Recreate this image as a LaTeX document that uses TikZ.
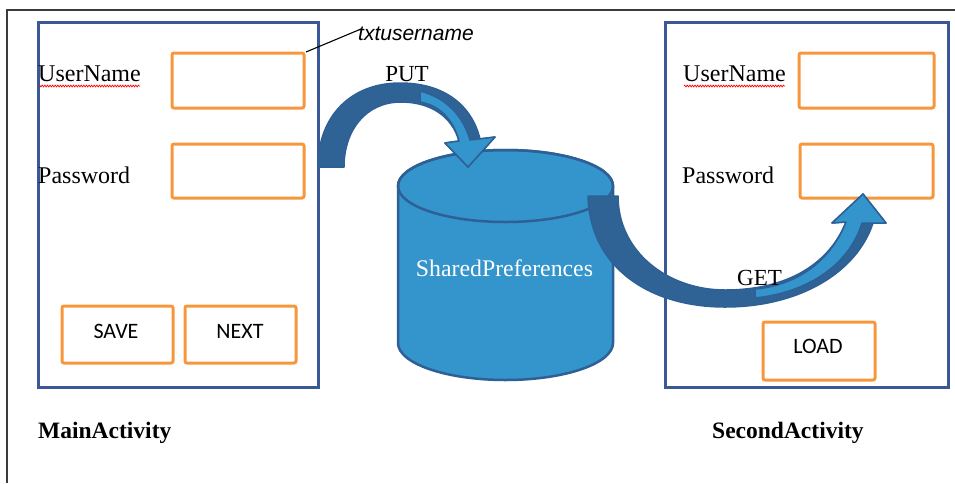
\documentclass[tikz,border=0pt]{standalone}
\usepackage{fontspec}
\setmainfont{Liberation Serif}
\newfontfamily\btnfont{Carlito}
\newfontfamily\annfont{Liberation Sans}
\usetikzlibrary{decorations.pathmorphing}

\definecolor{frameblue}{RGB}{58,88,150}
\definecolor{fieldorange}{RGB}{248,150,60}
\definecolor{dbfill}{RGB}{52,148,204}
\definecolor{dbline}{RGB}{46,96,150}
\definecolor{arrowdark}{RGB}{47,99,150}
\definecolor{pagegray}{RGB}{60,60,60}

\begin{document}
\begin{tikzpicture}[x=1pt,y=-1pt,
  activity/.style={draw=frameblue, line width=3pt, anchor=north west, inner sep=0pt, outer sep=0pt},
  field/.style={draw=fieldorange, line width=3pt, rounded corners=2pt, anchor=north west, inner sep=0pt, outer sep=0pt},
  lbl/.style={font=\fontsize{24}{28}\selectfont, anchor=base west, inner sep=0pt},
  title/.style={font=\fontsize{23.5}{28}\selectfont\bfseries, anchor=base west, inner sep=0pt},
  btn/.style={font=\btnfont\fontsize{22}{26}\selectfont, anchor=base, inner sep=0pt},
  verb/.style={font=\fontsize{23}{28}\selectfont, anchor=base, inner sep=0pt},
  squiggle/.style={draw=red, line width=0.7pt, decorate, decoration={zigzag, amplitude=0.9pt, segment length=2.6pt}},
  blockarrow/.style={fill=arrowdark, draw=dbline, line width=1.5pt, line join=round},
  blocklight/.style={fill=dbfill, draw=dbline, line width=1.5pt, line join=round}
]
\useasboundingbox (0,0) rectangle (955,483);

% page frame
\draw[pagegray, line width=1.5pt] (7,483) -- (7,10) -- (955,10);

% MainActivity screen
\node[activity, minimum width=280pt, minimum height=365pt] (main) at (38,22) {};
\node[lbl] (mainuserlbl) at (38,81) {UserName};
\draw[squiggle] (39,86) -- (140,86);
\node[lbl] (mainpasslbl) at (38,183) {Password};
\node[field, minimum width=132pt, minimum height=55pt] (mainuser) at (172,53) {};
\node[field, minimum width=132pt, minimum height=54pt] (mainpass) at (172,144) {};
\node[field, minimum width=111pt, minimum height=57pt] (save) at (62,306) {};
\node[field, minimum width=111pt, minimum height=57pt] (next) at (185,306) {};
\node[btn] (savetxt) at (116,338) {SAVE};
\node[btn] (nexttxt) at (240,338) {NEXT};
\node[title] (maintitle) at (38,438) {MainActivity};

% field annotation
\node[font=\annfont\itshape\fontsize{21}{25}\selectfont, anchor=base west, inner sep=0pt] (annot) at (358,40) {txtusername};
\coordinate (annotend) at (361,29);
\draw[black, line width=1.1pt] (mainuser.north east) ++(2,-1) -- (annotend);

% SecondActivity screen
\node[activity, minimum width=283pt, minimum height=365pt] (second) at (665,22) {};
\node[lbl] (secuserlbl) at (683,81) {UserName};
\draw[squiggle] (684,86) -- (785,86);
\node[lbl] (secpasslbl) at (682,183) {Password};
\node[field, minimum width=135pt, minimum height=55pt] (secuser) at (799,53) {};
\node[field, minimum width=133pt, minimum height=54pt] (secpass) at (800,144) {};
\node[field, minimum width=112pt, minimum height=58pt] (load) at (763,322) {};
\node[btn] (loadtxt) at (818,353) {LOAD};
\node[title] (sectitle) at (712,438) {SecondActivity};

% SharedPreferences store
\coordinate (dbtop) at (505.5,186);
\coordinate (dbbot) at (505.5,343);
\filldraw[fill=dbfill, draw=dbline, line width=2.5pt]
  (398,186) -- (398,343) arc[start angle=180, end angle=0, x radius=107.5, y radius=37]
  -- (613,186) arc[start angle=0, end angle=-180, x radius=107.5, y radius=36] -- cycle;
\draw[dbline, line width=2.5pt] (dbtop) ellipse[x radius=107.5, y radius=36];
\node[font=\fontsize{23.8}{28}\selectfont, text=white, anchor=base, inner sep=0pt] (db) at (504.5,276) {SharedPreferences};

% PUT arrow
\path[blockarrow]
  (318,167) .. controls (318,115) and (352,83) .. (400,83)
  .. controls (445,83) and (472,106) .. (480,139)
  -- (495,137) -- (468,167) -- (445,143) -- (459,141)
  .. controls (452,116) and (430,102) .. (401,102)
  .. controls (366,102) and (344,130) .. (344,167) -- cycle;
\path[blocklight]
  (420,91) .. controls (447,98) and (463,116) .. (470,140)
  -- (495,137) -- (468,167) -- (445,143) -- (459,141)
  .. controls (453,118) and (438,105) .. (420,102) -- cycle;
\node[verb] (put) at (407,81) {PUT};

% GET arrow
\path[blockarrow]
  (588,196) .. controls (590,268) and (650,307) .. (725,307)
  .. controls (800,307) and (857,272) .. (873,223)
  -- (886,223) -- (863,194) -- (832,223) -- (846,222)
  .. controls (830,262) and (790,290) .. (725,290)
  .. controls (668,290) and (618,252) .. (618,196) -- cycle;
\path[blocklight]
  (755,298) .. controls (812,292) and (850,262) .. (862,223)
  -- (886,223) -- (863,194) -- (832,223) -- (846,222)
  .. controls (832,258) and (800,285) .. (755,289) -- cycle;
\node[verb] (get) at (759.5,285) {GET};
\end{tikzpicture}
\end{document}
